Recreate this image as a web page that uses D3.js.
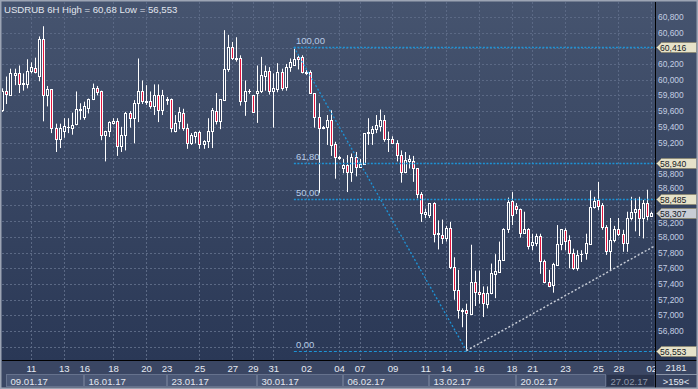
<!DOCTYPE html>
<html>
<head>
<meta charset="utf-8">
<script src="https://cdn.jsdelivr.net/npm/d3@7"></script>
<style>
  html, body { margin: 0; padding: 0; background: #2e3b57; }
  svg { display: block; font-family: "Liberation Sans", Arial, sans-serif; }
</style>
</head>
<body>
<div class="canvas"></div>
<script>
const WIDTH = 698;
const HEIGHT = 389;
const plot = { left: 2, right: 655, top: 2, bottom: 360 };

// USDRUB 6H candles (159 bars)
const open = [59.62,59.86,59.81,60.06,60.08,59.96,59.94,60.11,60.15,60.05,60.52,59.81,59.88,59.39,59.25,59.35,59.40,59.38,59.43,59.63,
  59.52,59.64,59.75,59.89,59.85,59.30,59.35,59.45,59.47,59.15,59.29,59.58,59.51,59.70,59.85,59.72,59.73,59.67,59.81,59.61,
  59.75,59.75,59.35,59.48,59.58,59.39,59.20,59.28,59.33,59.18,59.22,59.35,59.60,59.47,59.74,60.14,60.41,60.27,60.27,59.73,
  59.86,59.80,59.83,59.86,60.05,60.11,59.86,59.88,60.10,59.91,60.16,60.19,60.29,60.29,60.10,60.10,59.83,59.52,59.38,59.40,
  59.49,59.18,59.01,58.87,58.91,58.83,59.02,58.89,58.93,59.32,59.32,59.37,59.41,59.49,59.24,59.25,59.20,59.04,58.82,58.96,
  58.97,58.87,58.55,58.29,58.28,58.43,58.04,58.03,57.98,58.11,57.62,57.33,57.07,57.07,57.02,57.42,57.30,57.28,57.15,57.28,
  57.53,57.55,57.71,58.10,58.45,58.39,58.35,58.05,58.10,57.90,57.92,58.01,57.69,57.42,57.39,57.64,57.91,58.09,57.96,57.79,
  57.60,57.78,57.79,57.91,58.38,58.47,58.40,58.13,57.82,57.96,58.10,58.04,57.92,58.24,58.32,58.35,58.24,58.43,58.27];
const high = [59.89,60.04,60.14,60.14,60.18,60.08,60.26,60.22,60.28,60.55,60.68,59.92,59.88,59.44,59.44,59.51,59.51,59.58,59.85,59.70,
  59.72,59.76,59.95,59.92,59.86,59.35,59.47,59.51,59.51,59.40,59.59,59.60,59.74,60.27,59.99,59.93,59.85,59.94,59.94,59.87,
  59.78,59.76,59.55,59.65,59.63,59.44,59.32,59.34,59.35,59.23,59.51,59.64,59.83,59.75,60.63,60.57,60.48,60.54,60.31,59.99,
  59.88,59.80,60.18,60.29,60.18,60.16,60.08,60.21,60.14,60.20,60.27,60.416,60.31,60.31,60.12,60.12,59.83,59.70,59.41,59.55,
  59.61,59.21,59.03,58.99,59.04,59.06,59.08,58.99,59.32,59.51,59.41,59.55,59.62,59.55,59.34,59.28,59.23,59.10,59.08,59.04,
  59.03,58.87,58.57,58.36,58.43,58.44,58.21,58.22,58.14,58.19,57.74,57.58,57.09,57.15,57.90,57.57,57.57,57.37,57.37,57.66,
  57.78,57.94,58.11,58.50,58.57,58.43,58.36,58.32,58.11,58.04,58.04,58.04,57.71,57.58,57.67,58.15,58.10,58.11,58.02,57.85,
  57.83,57.83,58.04,58.59,58.51,58.70,58.43,58.15,58.24,58.14,58.24,58.09,58.32,58.51,58.49,58.51,58.47,58.60,58.32];
const low = [59.59,59.69,59.80,59.93,59.83,59.86,59.89,60.08,60.08,59.98,59.47,59.66,59.32,59.08,59.13,59.26,59.32,59.30,59.42,59.49,
  59.49,59.57,59.74,59.80,59.23,58.96,59.27,59.43,59.03,59.08,59.10,59.39,59.19,59.46,59.69,59.68,59.63,59.55,59.46,59.55,
  59.68,59.33,59.33,59.37,59.35,59.12,59.17,59.19,59.12,59.12,59.13,59.13,59.43,59.37,59.73,60.10,60.25,60.23,59.67,59.54,
  59.82,59.59,59.45,59.83,59.86,59.81,59.39,59.84,59.86,59.86,60.10,60.19,60.13,60.08,60.06,59.82,59.39,58.56,59.37,59.17,
  59.03,58.74,58.98,58.81,58.57,58.70,58.77,58.88,58.93,59.17,59.17,59.32,59.34,59.21,59.08,59.18,58.96,58.69,58.81,58.87,
  58.70,58.49,58.19,58.24,58.24,57.93,57.84,57.91,57.94,57.59,57.20,56.96,56.85,56.553,57.01,57.12,57.15,56.98,57.09,57.27,
  57.22,57.54,57.70,58.05,58.15,58.29,57.99,58.04,57.84,57.83,57.88,57.53,57.41,57.36,57.29,57.63,57.83,57.83,57.60,57.58,
  57.57,57.68,57.71,57.90,58.36,58.34,58.09,57.77,57.57,57.93,58.01,57.81,57.81,58.21,58.07,58.01,57.98,58.21,58.26];
const close = [59.86,59.82,60.08,60.08,59.95,59.95,60.11,60.16,60.10,60.52,59.81,59.88,59.39,59.25,59.39,59.41,59.40,59.42,59.63,59.61,
  59.66,59.75,59.90,59.84,59.30,59.35,59.46,59.47,59.15,59.30,59.58,59.51,59.70,59.85,59.73,59.73,59.67,59.81,59.61,59.80,
  59.74,59.38,59.45,59.59,59.39,59.20,59.29,59.33,59.18,59.22,59.35,59.61,59.47,59.75,60.14,60.41,60.27,60.26,59.73,59.86,
  59.86,59.59,59.86,60.06,60.11,59.86,59.89,60.10,59.90,60.16,60.22,60.26,60.26,60.10,60.09,59.83,59.52,59.39,59.40,59.49,
  59.17,59.01,59.00,58.91,58.83,59.02,58.89,58.93,59.32,59.34,59.37,59.42,59.49,59.24,59.25,59.20,59.04,58.83,58.98,58.99,
  58.87,58.55,58.30,58.32,58.43,58.04,58.05,57.98,58.11,57.62,57.33,57.07,57.06,57.03,57.42,57.30,57.27,57.16,57.29,57.54,
  57.56,57.71,58.10,58.44,58.28,58.35,58.05,58.10,57.88,57.93,58.01,57.69,57.42,57.38,57.65,57.91,58.10,57.95,57.79,57.60,
  57.77,57.78,57.92,58.38,58.46,58.39,58.12,57.82,57.96,58.10,58.04,57.92,58.24,58.32,58.35,58.24,58.43,58.27,58.31];

// price axis ticks
const priceTicks = [56.6, 56.8, 57.0, 57.2, 57.4, 57.6, 57.8, 58.0, 58.2, 58.4, 58.6,
  58.8, 59.0, 59.2, 59.4, 59.6, 59.8, 60.0, 60.2, 60.4, 60.6, 60.8];

// time axis: day labels and week boxes (bar index, text)
const dayIdx = [7, 15, 20, 27, 35, 40, 48, 56, 61, 66, 74, 82, 87, 95, 103, 108, 116, 124, 129, 137, 145, 150, 158];
const dayText = ['11','13','16','18','20','23','25','27','29','31','02','04','07','09','11','14','16','18','21','23','25','28','02'];
const weekIdx = [1, 20, 40, 62, 83, 104, 125, 147];
const weekText = ['09.01.17','16.01.17','23.01.17','30.01.17','06.02.17','13.02.17','20.02.17','27.02.17'];

// fibonacci retracement and trend line
const fibHigh = 60.416, fibLow = 56.553;
const fibFrom = 71, fibTo = 113;
const fibLevels = [1, 0.618, 0.5, 0];
const fibText = ['100,00', '61,80', '50,00', '0,00'];
const trendIdx = [113, 148];
const trendPrice = [56.553, 57.57];
const lastPrice = 58.307;

const bars = open.map((o, i) => ({ i, o, h: high[i], l: low[i], c: close[i] }));
const fmt = v => (Math.round(v * 1000 + 1e-6) / 1000).toFixed(3).replace('.', ',');

const svg = d3.select('.canvas')
  .append('svg')
    .attr('width', WIDTH)
    .attr('height', HEIGHT);

const defs = svg.append('defs');
const grad = defs.append('linearGradient')
  .attr('id', 'bg').attr('x1', 0).attr('y1', 0).attr('x2', 0).attr('y2', 1);
grad.append('stop').attr('offset', 0).attr('stop-color', '#46546f');
grad.append('stop').attr('offset', 1).attr('stop-color', '#2a3856');
defs.append('clipPath').attr('id', 'plotclip')
  .append('rect')
    .attr('x', plot.left).attr('y', plot.top)
    .attr('width', plot.right - plot.left).attr('height', plot.bottom - plot.top);

// scales
const x = d3.scaleLinear().domain([0, bars.length - 1]).range([2.2, 651.3]);
const y = d3.scaleLinear().domain([56.6, 60.8]).range([346.9, 16.8]);
const cx = i => Math.round(x(i)) + 0.5;
const cy = v => Math.round(y(v)) + 0.5;

// backgrounds
svg.append('rect').attr('width', WIDTH).attr('height', plot.bottom).attr('fill', 'url(#bg)');
svg.append('rect').attr('y', plot.bottom).attr('width', WIDTH).attr('height', HEIGHT - plot.bottom)
  .attr('fill', '#3a4663');

const graph = svg.append('g').attr('clip-path', 'url(#plotclip)');

// grid
graph.append('g').selectAll('line')
  .data(priceTicks)
  .join('line')
    .attr('x1', plot.left).attr('x2', plot.right)
    .attr('y1', d => cy(d)).attr('y2', d => cy(d))
    .attr('stroke', '#5b6985').attr('stroke-dasharray', '2,2');

graph.append('g').selectAll('line')
  .data(dayIdx.filter(d => !weekIdx.includes(d)))
  .join('line')
    .attr('x1', d => cx(d)).attr('x2', d => cx(d))
    .attr('y1', plot.top).attr('y2', plot.bottom)
    .attr('stroke', '#5b6985').attr('stroke-dasharray', '2,2');

// candles
graph.append('g').selectAll('line')
  .data(bars)
  .join('line')
    .attr('x1', d => cx(d.i)).attr('x2', d => cx(d.i))
    .attr('y1', d => y(d.h)).attr('y2', d => y(d.l))
    .attr('stroke', '#ffffff');

graph.append('g').selectAll('rect')
  .data(bars)
  .join('rect')
    .attr('x', d => cx(d.i) - 1)
    .attr('width', 2)
    .attr('y', d => cy(Math.max(d.o, d.c)))
    .attr('height', d => Math.max(0.01, cy(Math.min(d.o, d.c)) - cy(Math.max(d.o, d.c))))
    .attr('fill', d => d.c < d.o ? '#e3163f' : '#34425f')
    .attr('stroke', '#ffffff');

// fibonacci levels
const fibPrice = fibLevels.map(f => fibLow + f * (fibHigh - fibLow));
graph.append('g').selectAll('line')
  .data(fibPrice)
  .join('line')
    .attr('x1', x(fibFrom)).attr('x2', plot.right)
    .attr('y1', d => cy(d)).attr('y2', d => cy(d))
    .attr('stroke', '#1d93d6')
    .attr('stroke-width', (d, i) => i === 3 ? 1 : 1.6)
    .attr('stroke-dasharray', (d, i) => i === 3 ? '3,2' : '2,1.5');

graph.append('line')
  .attr('x1', x(fibFrom)).attr('y1', y(fibHigh))
  .attr('x2', x(fibTo)).attr('y2', y(fibLow))
  .attr('stroke', '#1d93d6').attr('stroke-width', 1.3).attr('stroke-dasharray', '2,2');

graph.append('g').selectAll('text')
  .data(fibText)
  .join('text')
    .attr('x', x(fibFrom) + 2)
    .attr('y', (d, i) => y(fibPrice[i]) - 3)
    .attr('font-size', 9.5)
    .attr('fill', '#b7cbe6')
    .text(d => d);

// rising trend line, extended to the right edge
const slope = (y(trendPrice[1]) - y(trendPrice[0])) / (x(trendIdx[1]) - x(trendIdx[0]));
graph.append('line')
  .attr('x1', x(trendIdx[0])).attr('y1', y(trendPrice[0]))
  .attr('x2', plot.right).attr('y2', y(trendPrice[0]) + slope * (plot.right - x(trendIdx[0])))
  .attr('stroke', '#c9ced8').attr('stroke-width', 1.4).attr('stroke-dasharray', '2,2');

// title
svg.append('text')
  .attr('x', 4).attr('y', 12.5)
  .attr('font-size', 9.6)
  .attr('fill', '#e2e6ee')
  .text('USDRUB 6H High = 60,68 Low = 56,553');

// price axis: tags sit on top of the scale, covered labels are left out
const tags = fibPrice.map(p => ({ p, fill: '#e6e2c9' }))
  .concat([{ p: lastPrice, fill: '#c9cdd5' }]);
const covered = v => tags.some(t => Math.abs(y(t.p) - y(v)) < 7.5);
// labels just beside a tag are nudged away from it
const nudge = v => {
  const t = tags.find(t => Math.abs(y(t.p) - y(v)) < 11);
  return t ? (y(v) > y(t.p) ? 2 : -2) : 0;
};

const yAxisGroup = svg.append('g');
yAxisGroup.selectAll('text')
  .data(priceTicks.filter(v => !covered(v)))
  .join('text')
    .attr('x', 658)
    .attr('y', d => y(d) + 3 + nudge(d))
    .attr('font-size', 8.4)
    .attr('fill', '#c3cee2')
    .text(d => fmt(d));

const tag = yAxisGroup.selectAll('g.tag')
  .data(tags)
  .join('g')
    .attr('class', 'tag')
    .attr('transform', d => `translate(0,${Math.round(y(d.p)) + 0.5})`);
tag.append('path')
  .attr('d', 'M656.5,0 L661.5,-5 L696.5,-5 L696.5,5 L661.5,5 Z')
  .attr('fill', d => d.fill)
  .attr('stroke', '#8c8a78');
tag.append('text')
  .attr('x', 660).attr('y', 3.2)
  .attr('font-size', 8.6)
  .attr('fill', '#141a26')
  .text(d => fmt(d.p));

// time axis
const xAxisGroup = svg.append('g');
const clipAxis = defs.append('clipPath').attr('id', 'axisclip');
clipAxis.append('rect').attr('x', 0).attr('y', plot.bottom).attr('width', plot.right).attr('height', 30);
xAxisGroup.attr('clip-path', 'url(#axisclip)');

xAxisGroup.selectAll('text.day')
  .data(dayIdx)
  .join('text')
    .attr('class', 'day')
    .attr('x', d => x(d) + 0.5)
    .attr('y', 372)
    .attr('text-anchor', 'middle')
    .attr('font-size', 9.6)
    .attr('fill', '#e6eaf2')
    .text((d, i) => dayText[i]);

const weekBoxes = weekIdx.map((w, i) => ({
  x0: Math.round(x(w)) + 0.5,
  x1: i < weekIdx.length - 1 ? Math.round(x(weekIdx[i + 1])) - 0.5 : plot.right - 0.5,
  label: weekText[i],
  last: i === weekIdx.length - 1
}));
const wk = xAxisGroup.selectAll('g.week')
  .data(weekBoxes)
  .join('g')
    .attr('class', 'week');
wk.append('rect')
  .attr('x', d => d.x0).attr('y', 374.5)
  .attr('width', d => d.x1 - d.x0).attr('height', 12)
  .attr('fill', d => d.last ? '#2a344d' : '#4b5876')
  .attr('stroke', d => d.last ? '#3a4560' : '#66728d');
wk.append('text')
  .attr('x', d => d.x0 + 4).attr('y', 384.5)
  .attr('font-size', 9.6)
  .attr('fill', d => d.last ? '#8d97aa' : '#e3e7ef')
  .text(d => d.label);

// corner box
svg.append('line').attr('x1', 656).attr('x2', 697).attr('y1', 374.5).attr('y2', 374.5)
  .attr('stroke', '#8a94a8');
svg.append('text').attr('x', 676).attr('y', 371).attr('text-anchor', 'middle')
  .attr('font-size', 9.4).attr('fill', '#e6eaf2').text('2181');
svg.append('text').attr('x', 676).attr('y', 384.5).attr('text-anchor', 'middle')
  .attr('font-size', 9.4).attr('fill', '#e6eaf2').text('>159<');

// separators and frame
svg.append('line').attr('x1', plot.left).attr('x2', WIDTH).attr('y1', plot.bottom + 0.5).attr('y2', plot.bottom + 0.5)
  .attr('stroke', '#000');
svg.append('line').attr('x1', plot.right + 0.5).attr('x2', plot.right + 0.5).attr('y1', plot.top).attr('y2', HEIGHT)
  .attr('stroke', '#000');
svg.append('rect').attr('x', 0.75).attr('y', 0.75).attr('width', WIDTH - 1.5).attr('height', HEIGHT - 1.5)
  .attr('fill', 'none').attr('stroke', '#9ca4b4').attr('stroke-width', 1.5);
</script>
</body>
</html>
